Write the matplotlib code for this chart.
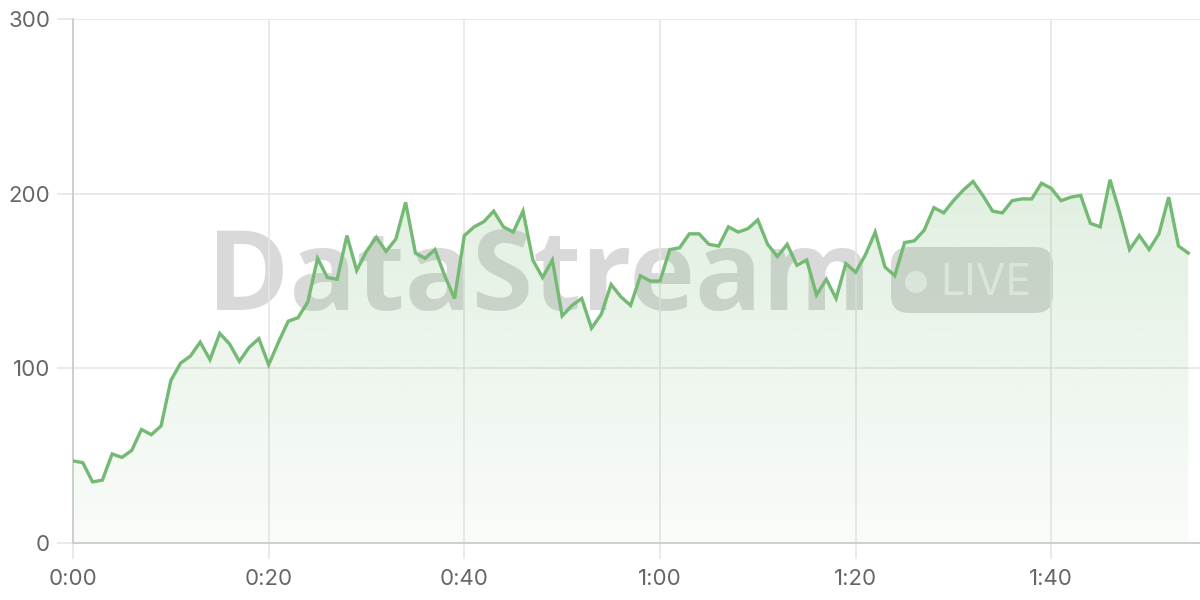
import numpy as np
import matplotlib
matplotlib.use('Agg')
import matplotlib.pyplot as plt
from matplotlib.patches import FancyBboxPatch, Circle
from matplotlib.transforms import IdentityTransform

# Waarden per minuut
minutes = list(range(115))
values = [47, 46, 35, 36, 51, 49, 53, 65, 62, 67,
          93, 103, 107, 115, 105, 120, 114, 104, 112, 117,
          102, 115, 127, 129, 138, 163, 152, 151, 176, 156,
          167, 175, 167, 174, 195, 166, 163, 168, 153, 140,
          176, 181, 184, 190, 181, 178, 190, 162, 152, 162,
          130, 136, 140, 123, 131, 148, 141, 136, 153, 150,
          150, 168, 169, 177, 177, 171, 170, 181, 178, 180,
          185, 171, 164, 171, 159, 162, 142, 151, 140, 160,
          155, 165, 178, 158, 153, 172, 173, 179, 192, 189,
          196, 202, 207, 199, 190, 189, 196, 197, 197, 206,
          203, 196, 198, 199, 183, 181, 208, 189, 168, 176,
          168, 177, 198, 170, 166]
xticks = [0, 20, 40, 60, 80, 100]
xticklabels = ['0:00', '0:20', '0:40', '1:00', '1:20', '1:40']
yticks = [0, 100, 200, 300]

green = '#74b974'
grid = '#e6e6e6'

plt.rcParams['font.family'] = ['Inter', 'DejaVu Sans']

fig = plt.figure(figsize=(12, 6), dpi=100)
ax = fig.add_axes([73/1200, 57/600, 1127/1200, 524/600])
ax.set_xlim(0, 115.2)
ax.set_ylim(0, 300)

# watermerk (pixelcoordinaten, oorsprong linksonder)
px = IdentityTransform()
ax.text(539, 600 - 310, 'DataStream', transform=px, ha='center', va='baseline',
        fontsize=80, fontweight='bold', family=['Open Sans', 'DejaVu Sans'],
        color='#b4b4b4', alpha=0.5, zorder=0)
pill = FancyBboxPatch((891, 600 - 313), 162, 66, transform=px,
                      boxstyle='round,pad=0,rounding_size=18',
                      facecolor='#b4b4b4', edgecolor='none', alpha=0.5, zorder=0)
ax.add_patch(pill)
ax.add_patch(Circle((916, 600 - 282), 11, transform=px, facecolor='white',
                    edgecolor='none', alpha=0.6, zorder=0.5))
ax.text(986, 600 - 295, 'LIVE', transform=px, ha='center', va='baseline',
        fontsize=31, color='white', alpha=0.6, zorder=0.5)

# vlak met verloop
x = np.array(minutes)
y = np.array(values)
poly = ax.fill_between(x, y, 0, color='none', zorder=1)
rgba = np.zeros((256, 1, 4))
rgba[..., 0] = 0x74 / 255
rgba[..., 1] = 0xb9 / 255
rgba[..., 2] = 0x74 / 255
rgba[..., 3] = np.linspace(0.04, 0.22, 256).reshape(-1, 1)
im = ax.imshow(rgba, extent=[0, x[-1], 0, y.max()], origin='lower', aspect='auto', zorder=1)
im.set_clip_path(poly.get_paths()[0], transform=ax.transData)
ax.plot(x, y, color=green, linewidth=2.4, solid_joinstyle='miter', zorder=3)
ax.set_xlim(0, 115.2)
ax.set_ylim(0, 300)

ax.set_xticks(xticks)
ax.set_xticklabels(xticklabels)
ax.set_yticks(yticks)
ax.grid(True, color=grid, linewidth=1.2, zorder=0)
ax.set_axisbelow(True)
ax.tick_params(axis='both', colors=grid, length=11.5, width=1.2, labelsize=16,
               labelcolor='#666666')
ax.tick_params(axis='y', pad=5)
ax.tick_params(axis='x', pad=7)
for s in ['top', 'right']:
    ax.spines[s].set_visible(False)
for s in ['left', 'bottom']:
    ax.spines[s].set_color('#cccccc')
    ax.spines[s].set_linewidth(1.3)

fig.savefig('out.png', dpi=100)
